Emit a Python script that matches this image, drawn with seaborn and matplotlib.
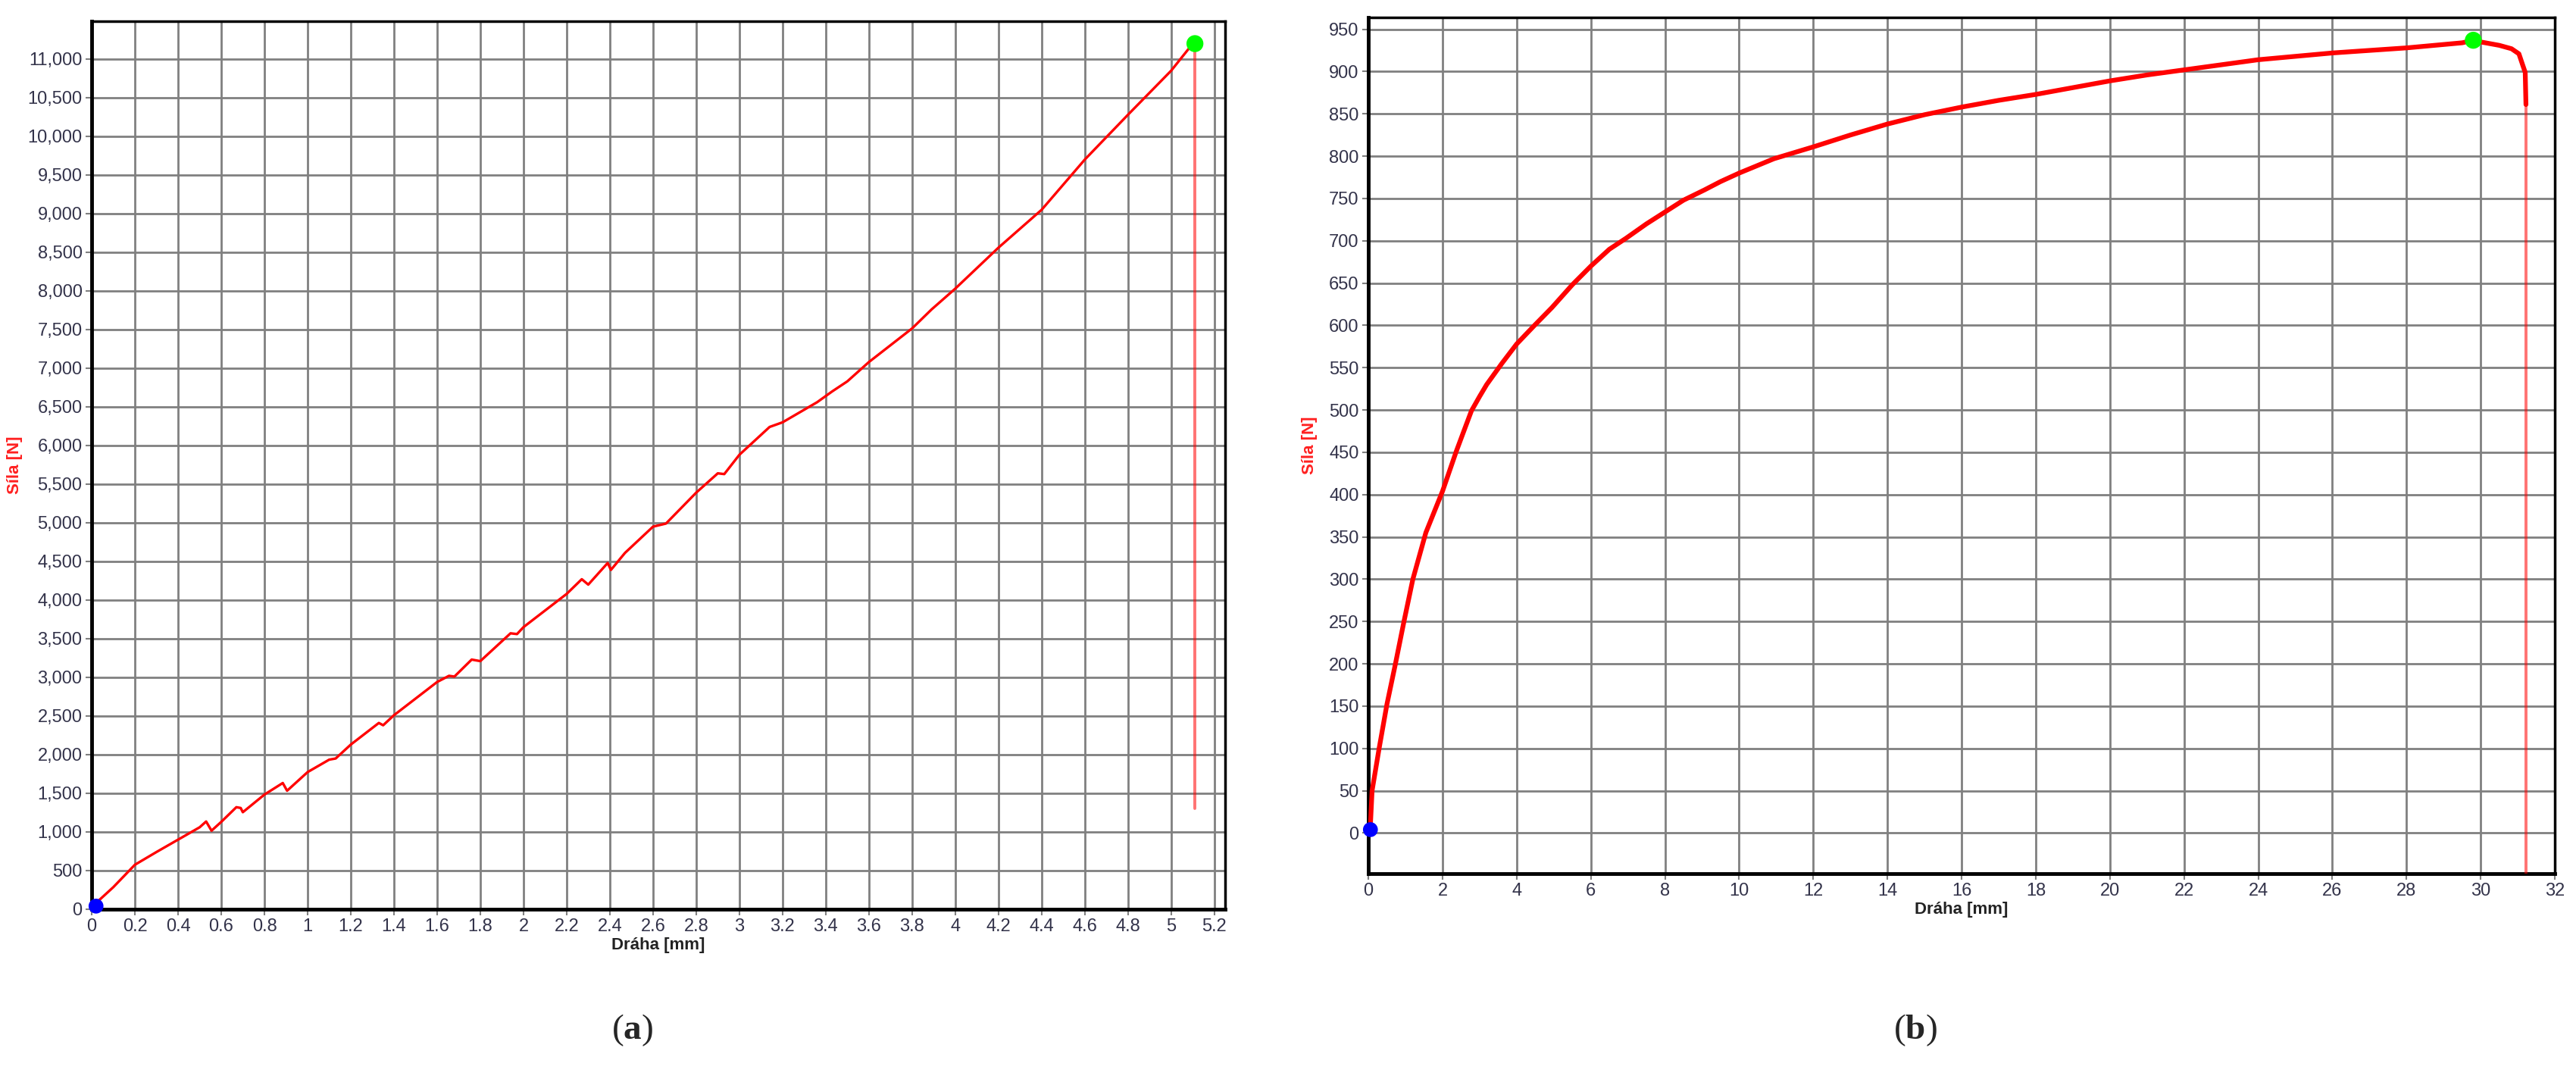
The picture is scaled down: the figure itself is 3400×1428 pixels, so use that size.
import numpy as np
import pandas as pd
import matplotlib
matplotlib.use('Agg')
import matplotlib.pyplot as plt
import matplotlib.font_manager as fm
import seaborn as sns
from matplotlib.ticker import MultipleLocator, FuncFormatter

# panel (a): force vs. travel, small specimen
a_x = [0.02, 0.1, 0.2, 0.3, 0.4, 0.5, 0.53, 0.555, 0.6, 0.67, 0.69, 0.7, 0.8,
       0.885, 0.905, 1.0, 1.1, 1.13, 1.2, 1.33, 1.35, 1.4, 1.6, 1.655, 1.68,
       1.76, 1.8, 1.94, 1.97, 2.0, 2.2, 2.27, 2.3, 2.39, 2.405, 2.47, 2.6,
       2.66, 2.8, 2.9, 2.93, 3.0, 3.14, 3.2, 3.36, 3.43, 3.5, 3.6, 3.8, 3.89,
       4.0, 4.2, 4.4, 4.6, 4.8, 5.0, 5.08, 5.11]
a_y = [80, 285, 575, 740, 900, 1060, 1135, 1016, 1130, 1320, 1310, 1255, 1483,
       1633, 1533, 1774, 1935, 1950, 2130, 2410, 2380, 2510, 2940, 3020, 3010,
       3230, 3210, 3570, 3560, 3650, 4080, 4270, 4200, 4480, 4390, 4610, 4950,
       4990, 5390, 5640, 5630, 5880, 6240, 6300, 6560, 6700, 6830, 7080, 7515,
       7760, 8030, 8560, 9050, 9700, 10280, 10850, 11130, 11200]
a_break_x = [5.11, 5.11]
a_break_y = [11200, 1300]
a_start = (0.02, 40)
a_max = (5.11, 11200)

# panel (b): force vs. travel, ductile specimen
b_x = [0.05, 0.1, 0.29, 0.5, 0.73, 0.96, 1.2, 1.55, 2.0, 2.37, 2.6, 2.78,
       3.0, 3.19, 3.6, 4.0, 4.48, 4.95, 5.5, 6.0, 6.5, 6.95, 7.5, 8.0, 8.5,
       9.06, 9.5, 10.0, 10.94, 12.0, 13.0, 14.0, 15.0, 16.0, 17.0, 18.0, 19.0,
       20.0, 21.0, 22.0, 23.0, 24.0, 25.0, 26.0, 27.0, 28.0, 29.5, 29.8, 30.0,
       30.5, 30.83, 31.03, 31.13, 31.2, 31.22]
b_y = [5, 50, 100, 152, 200, 250, 300, 355, 404, 451, 478, 499, 516, 530, 555,
       578, 600, 621, 648, 670, 690, 703, 720, 734, 748, 760, 770, 780, 797,
       811, 825, 838, 849, 858, 866, 873, 881, 889, 896, 902, 908, 914, 918,
       922, 925, 928, 934, 937, 935, 931, 927, 921, 908, 899, 861]
b_break_x = [31.22, 31.22]
b_break_y = [861, -48]
b_start = (0.055, 4)
b_max = (29.8, 937)

sns.set_style('white')
names = {f.name for f in fm.fontManager.ttflist}
tick_font = 'Liberation Sans Narrow' if 'Liberation Sans Narrow' in names else 'Liberation Sans'
plt.rcParams['font.family'] = [tick_font, 'DejaVu Sans']
plt.rcParams['mathtext.fontset'] = 'custom'
plt.rcParams['mathtext.rm'] = 'Liberation Serif'
plt.rcParams['mathtext.bf'] = 'Liberation Serif:bold'

fig = plt.figure(figsize=(34, 14.28), dpi=100)
ax_a = fig.add_axes([0.0356, 0.1597, 0.44, 0.8207])
ax_b = fig.add_axes([0.5312, 0.1926, 0.4606, 0.7913])

grid_col = '#808080'
tick_col = '#33334a'


def style_axes(ax, xmaj, xmin, ymaj, ymin, xlim, ylim, yfmt, ylab_x):
    ax.set_xlim(*xlim)
    ax.set_ylim(*ylim)
    ax.xaxis.set_major_locator(MultipleLocator(xmaj))
    ax.xaxis.set_minor_locator(MultipleLocator(xmin))
    ax.yaxis.set_major_locator(MultipleLocator(ymaj))
    ax.yaxis.set_minor_locator(MultipleLocator(ymin))
    ax.xaxis.set_major_formatter(FuncFormatter(lambda v, p: f'{v:g}'))
    ax.yaxis.set_major_formatter(FuncFormatter(yfmt))
    ax.grid(True, which='major', color=grid_col, lw=2.0)
    ax.set_axisbelow(True)
    ax.tick_params(which='major', direction='out', length=6, width=1.5,
                   color=grid_col, labelsize=17, labelcolor=tick_col, pad=3)
    ax.tick_params(which='minor', direction='out', length=4, width=1.5,
                   color='#555555')
    ax.tick_params(left=True, bottom=True)
    for side in ['left', 'bottom']:
        ax.spines[side].set_linewidth(3.5)
        ax.spines[side].set_color('black')
    for side in ['top', 'right']:
        ax.spines[side].set_linewidth(2.5)
        ax.spines[side].set_color('black')
    ax.set_xlabel('Dráha [mm]', fontsize=16, fontweight='bold', color='#222222', labelpad=2)
    ax.set_ylabel('Síla [N]', fontsize=16, fontweight='bold', color='#ff2020')
    ax.yaxis.set_label_coords(ylab_x, 0.5)


def draw_curve(ax, x, y, bx, by, start, peak, lw):
    df = pd.DataFrame({'x': x, 'y': y})
    sns.lineplot(data=df, x='x', y='y', sort=False, estimator=None,
                 color='#ff0000', lw=lw, ax=ax, zorder=3)
    brk = pd.DataFrame({'x': bx, 'y': by})
    sns.lineplot(data=brk, x='x', y='y', sort=False, estimator=None,
                 color='#ff0000', alpha=0.55, lw=2.8, ax=ax, zorder=3)
    pts = pd.DataFrame({'x': [start[0]], 'y': [start[1]]})
    sns.scatterplot(data=pts, x='x', y='y', color='#0000ff', s=200,
                    edgecolor='none', ax=ax, zorder=5, clip_on=False)
    pk = pd.DataFrame({'x': [peak[0]], 'y': [peak[1]]})
    sns.scatterplot(data=pk, x='x', y='y', color='#00ff00', s=260,
                    edgecolor='none', ax=ax, zorder=5)


draw_curve(ax_a, a_x, a_y, a_break_x, a_break_y, a_start, a_max, 2.4)
style_axes(ax_a, 0.2, 0.04, 500, 100, (0, 5.25), (0, 11490),
           lambda v, p: f'{int(round(v)):,}', -0.061)
draw_curve(ax_b, b_x, b_y, b_break_x, b_break_y, b_start, b_max, 4.5)
style_axes(ax_b, 2, 0.4, 50, 10, (0, 32), (-48, 964),
           lambda v, p: f'{int(round(v))}', -0.043)

for xpos, letter in [(0.2456, 'a'), (0.7435, 'b')]:
    fig.text(xpos, 0.048, '($\\mathbf{' + letter + '}$)', ha='center', va='center',
             fontsize=34, family='Liberation Serif')

fig.savefig('out.png', dpi=100)
